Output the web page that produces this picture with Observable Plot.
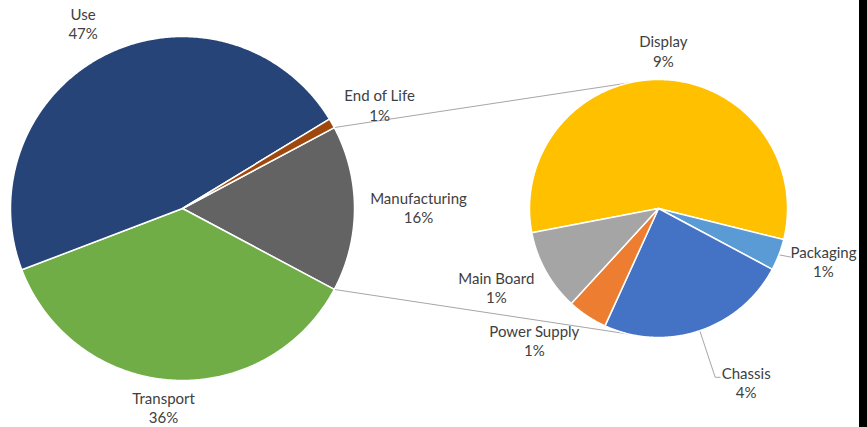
<!DOCTYPE html>
<html><head><meta charset="utf-8">
<script src="https://cdn.jsdelivr.net/npm/d3@7"></script>
<script src="https://cdn.jsdelivr.net/npm/@observablehq/plot@0.6"></script>
<style>
html,body{margin:0;padding:0;background:#000;}
#chart{width:859px;height:427px;background:#fff;overflow:hidden;}
</style>
</head><body><div id="chart"></div>
<script>
// ---- data ----
const mainNames  = ["Manufacturing", "Transport", "Use", "End of Life"];
const mainValues = [15.6, 36.4, 47.1, 0.9];
const mainLabels = ["16%", "36%", "47%", "1%"];
const mainColors = ["#636363", "#70ad47", "#264478", "#9e480e"];

const subNames  = ["Display", "Packaging", "Chassis", "Power Supply", "Main Board"];
const subValues = [9.1, 0.63, 3.84, 0.8, 1.63];
const subLabels = ["9%", "1%", "4%", "1%", "1%"];
const subColors = ["#ffc000", "#5b9bd5", "#4472c4", "#ed7d31", "#a5a5a5"];

// ---- layout ----
const W = 859, H = 427;
const L = {cx: 182, cy: 208, r: 172};
const R = {cx: 658, cy: 208, r: 129};
const deg = Math.PI / 180;
const subStart = -100.8 * deg;
const connectorAngles = [-13 * deg, 193 * deg]; // on the second pie
const labelLayout = {
  "Manufacturing": {dist: 236, turn: 0},
  "Transport": {dist: 201, turn: 1.8},
  "Use": {dist: 209, turn: -2.3},
  "End of Life": {dist: 222, turn: 2.3},
  "Display": {dist: 156.5, turn: 0.2},
  "Packaging": {dist: 173.6, turn: -2.9},
  "Chassis": {dist: 196, turn: -7.9},
  "Power Supply": {dist: 182, turn: 9.5},
  "Main Board": {dist: 181, turn: 2.8}
};
const labelShift = -1.5;

function pt(p, rr, a) { return [p.cx + rr * Math.sin(a), p.cy - rr * Math.cos(a)]; }

function slices(names, values, labels, start, pie) {
  const arcs = d3.pie().sort(null).startAngle(start).endAngle(start + 2 * Math.PI)(values);
  return arcs.map((a, i) => ({name: names[i], label: labels[i], a0: a.startAngle, a1: a.endAngle,
    mid: (a.startAngle + a.endAngle) / 2, pie}));
}

const mainTotal = d3.sum(mainValues);
const mainStart = Math.PI / 2 - (mainValues[0] / mainTotal) * Math.PI;
const mainSlices = slices(mainNames, mainValues, mainLabels, mainStart, L);
const subSlices = slices(subNames, subValues, subLabels, subStart, R);
const all = [...mainSlices, ...subSlices];

// polygons
const poly = [];
for (const s of all) {
  const p = s.pie;
  poly.push({name: s.name, x: p.cx, y: p.cy});
  const n = Math.max(2, Math.ceil((s.a1 - s.a0) / (0.5 * deg)));
  for (let k = 0; k <= n; k++) {
    const a = s.a0 + (s.a1 - s.a0) * k / n;
    const [x, y] = pt(p, p.r, a);
    poly.push({name: s.name, x, y});
  }
}

// labels
const labels = all.map(s => {
  const lay = labelLayout[s.name];
  const [x, y] = pt(s.pie, lay.dist, s.mid + lay.turn * deg);
  return {name: s.name, text: s.name + "\n" + s.label, x, y: y + labelShift};
});

// connector lines between pies
const man = mainSlices[0];
const conn = [];
[[man.a0, connectorAngles[0]], [man.a1, connectorAngles[1]]].forEach((pair, i) => {
  const [x1, y1] = pt(L, L.r, pair[0]);
  const [x2, y2] = pt(R, R.r, pair[1]);
  conn.push({id: "c" + i, x: x1, y: y1}, {id: "c" + i, x: x2, y: y2});
});

// leader lines
const leaders = [];
const lab = n => labels.find(d => d.name === n);
const sl = n => subSlices.find(d => d.name === n);
{
  const s = sl("Packaging"), l = lab("Packaging");
  const [x, y] = pt(R, R.r, s.mid);
  leaders.push({id: "p", x, y}, {id: "p", x: l.x - 33, y: l.y - 4});
}
{
  const s = sl("Chassis"), l = lab("Chassis");
  const [x, y] = pt(R, R.r, s.mid);
  leaders.push({id: "c", x, y}, {id: "c", x: l.x - 31, y: l.y - 5}, {id: "c", x: l.x - 26, y: l.y - 5});
}

const chart = Plot.plot({
  width: W, height: H,
  margin: 0,
  x: {domain: [0, W], range: [0, W], axis: null},
  y: {domain: [0, H], range: [0, H], axis: null},
  color: {domain: [...mainNames, ...subNames], range: [...mainColors, ...subColors]},
  style: {background: "#fff", fontFamily: "Lato, 'Open Sans', sans-serif"},
  marks: [
    Plot.line(conn, {x: "x", y: "y", z: "id", stroke: "#a6a6a6", strokeWidth: 1}),
    Plot.line(leaders, {x: "x", y: "y", z: "id", stroke: "#a6a6a6", strokeWidth: 1}),
    Plot.line(poly, {x: "x", y: "y", z: "name", fill: "name", stroke: "#fff", strokeWidth: 1.5,
      strokeLinejoin: "round", curve: "linear-closed"}),
    Plot.text(labels, {x: "x", y: "y", text: "text", fontSize: 15, lineHeight: 1.3,
      fill: "#404040", fontFamily: "Lato"})
  ]
});
document.getElementById("chart").appendChild(chart);
</script>
</body></html>
